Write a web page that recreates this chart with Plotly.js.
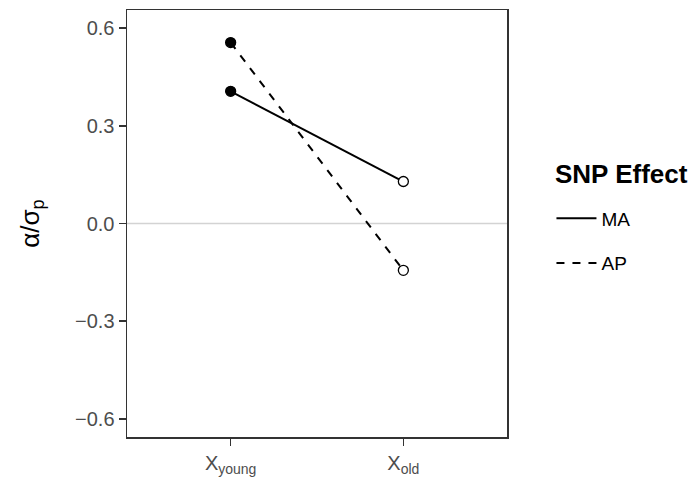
<!DOCTYPE html>
<html>
<head>
<meta charset="utf-8">
<script src="https://cdn.plot.ly/plotly-3.0.1.min.js"></script>
<style>html,body{margin:0;padding:0;background:#fff;}#chart{width:693px;height:477px;}</style>
</head>
<body>
<div id="chart"></div>
<script>
const categories = ["X<sub>young</sub>", "X<sub>old</sub>"];
const seriesNames = ["MA", "AP"];
const maValues = [0.406, 0.129];
const apValues = [0.556, -0.144];
const yTicks = [-0.6, -0.3, 0.0, 0.3, 0.6];
const yTickLabels = ["−0.6", "−0.3", "0.0", "0.3", "0.6"];
const legendTitle = "SNP Effect";

const font = "Liberation Sans, Arial, Helvetica, sans-serif";
const dashes = ["solid", "8px,8px"];
const allValues = [maValues, apValues];
const traces = [];
allValues.forEach((vals, i) => {
  traces.push({
    x: categories, y: vals, type: "scatter", mode: "lines+markers",
    name: seriesNames[i], showlegend: false,
    line: {color: "#000", width: 2, dash: dashes[i]},
    marker: {size: 10, color: ["#000", "#fff"], line: {color: "#000", width: 1.3}}
  });
});
allValues.forEach((vals, i) => {
  traces.push({
    x: [null], y: [null], type: "scatter", mode: "lines",
    name: seriesNames[i], showlegend: true, legendgroup: "g" + i,
    line: {color: "#000", width: 2, dash: dashes[i]}
  });
});

const layout = {
  width: 693, height: 477,
  margin: {l: 126.5, r: 186, t: 9.7, b: 40.3},
  paper_bgcolor: "#fff", plot_bgcolor: "#fff",
  font: {family: font, size: 19, color: "#4d4d4d"},
  showlegend: true,
  legend: {
    x: 1.117, xanchor: "left", y: 0.459, yanchor: "middle",
    font: {size: 19, color: "#000", family: font},
    tracegroupgap: 17, itemwidth: 40
  },
  annotations: [{
    text: "<b>" + legendTitle + "</b>", xref: "paper", yref: "paper",
    x: 1.12, xanchor: "left", y: (436.7 - 174) / 427, yanchor: "middle",
    showarrow: false, font: {size: 26, color: "#000", family: font}
  }],
  xaxis: {
    type: "category", range: [-0.6, 1.6],
    showgrid: false, zeroline: false,
    showline: true, linecolor: "#333", linewidth: 1.5, mirror: true,
    ticks: "outside", ticklen: 7, tickwidth: 1.5, tickcolor: "#333",
    tickfont: {size: 20, color: "#4d4d4d"}
  },
  yaxis: {
    range: [-0.656, 0.656],
    tickvals: yTicks, ticktext: yTickLabels,
    showgrid: false, zeroline: false,
    showline: true, linecolor: "#333", linewidth: 1.5, mirror: true,
    ticks: "outside", ticklen: 7, tickwidth: 1.5, tickcolor: "#333",
    tickfont: {size: 20, color: "#4d4d4d"},
    title: {text: "α/σ<sub>p</sub>", font: {size: 26, color: "#000"}, standoff: 28}
  },
  shapes: [{
    type: "line", xref: "paper", x0: 0, x1: 1, yref: "y", y0: 0, y1: 0,
    line: {color: "#d3d3d3", width: 1.5}, layer: "below"
  }]
};
Plotly.newPlot("chart", traces, layout, {displayModeBar: false, staticPlot: true});
</script>
</body>
</html>
